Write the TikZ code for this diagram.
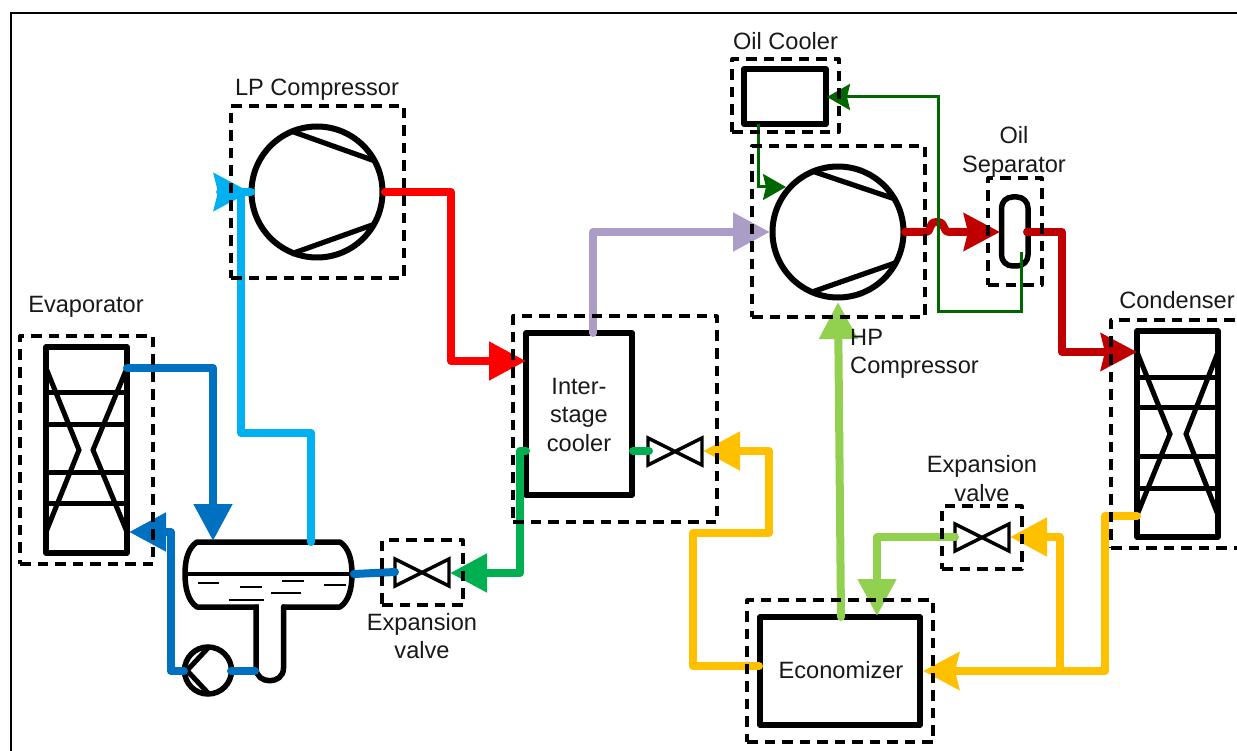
\documentclass[tikz,border=0pt]{standalone}
\usepackage{fontspec}
\setmainfont{Liberation Sans}
\usetikzlibrary{arrows.meta,fit,calc}
\definecolor{cblue}{HTML}{0070C0}
\definecolor{ccyan}{HTML}{00B0F0}
\definecolor{cred}{HTML}{FF0000}
\definecolor{cdred}{HTML}{C00000}
\definecolor{cpurple}{HTML}{AC9DC6}
\definecolor{cgreen}{HTML}{00B050}
\definecolor{clgreen}{HTML}{92D050}
\definecolor{cyellow}{HTML}{FFC000}
\definecolor{cdgreen}{HTML}{006600}
\tikzset{
  dashbox/.style={draw=black,line width=3.2pt,dash pattern=on 10.5pt off 7pt,inner sep=0pt,outer sep=0pt,line join=round},
  equip/.style={draw=black,line width=5.5pt,fill=white,inner sep=0pt,outer sep=0pt,line join=round},
  hxline/.style={draw=black,line width=5pt},
  comp/.style={draw=black,line width=6pt,fill=white,circle,inner sep=0pt,outer sep=0pt,minimum size=131pt},
  chord/.style={draw=black,line width=5.2pt},
  valvenode/.style={inner sep=0pt,outer sep=0pt},
  valvedraw/.style={draw=black,line width=3.4pt,line join=miter,fill=white},
  pipe/.style={line width=8pt,line join=round,line cap=round},
  oilpipe/.style={line width=3pt,line join=miter,draw=cdgreen},
  tip/.style={-{Triangle[length=37pt,width=37pt]}},
  notchtip/.style={-{Stealth[length=36pt,width=37pt,inset=4pt]}},
  oiltip/.style={-{Stealth[length=23pt,width=26pt,inset=3pt]}},
  lbl/.style={font=\fontsize{23.6}{28.5}\selectfont,align=center,inner sep=0pt,text=black!90}
}
\begin{document}
\begin{tikzpicture}[x=1pt,y=-1pt]
\useasboundingbox (0,0) rectangle (1237,751);
\clip (0,0) rectangle (1237,751);
\fill[white] (0,0) rectangle (1237,751);
\coordinate (frameTL) at (11,13);
\draw[line width=2pt] (11,751) -- (frameTL) -- (1237,13);

% equipment
\node[equip,fit={(46,347)(127,553)}] (evap) {};
\draw[hxline] (46,392)--(127,392) (46,424)--(127,424) (46,472)--(127,472) (46,503)--(127,503);
\draw[hxline,line join=miter] (46,368)--(79,450)--(46,532) (127,368)--(93,450)--(127,532);

\node[equip,fit={(1137,331)(1218,537)}] (cond) {};
\draw[hxline] (1137,377)--(1218,377) (1137,407)--(1218,407) (1137,456)--(1218,456) (1137,488)--(1218,488);
\draw[hxline,line join=miter] (1137,352)--(1170,434)--(1137,515) (1218,352)--(1186,434)--(1218,515);

\node[comp] (lp) at (317,192) {};
\draw[chord] (291,131)--(375,161) (291,254)--(375,224);
\node[comp] (hp) at (838,232) {};
\draw[chord] (812,171)--(895,199) (812,292)--(895,263);

\node[equip,fit={(526,333)(632,495)}] (ic) {};
\node[equip,fit={(760,617)(920,725)}] (eco) {};
\node[equip,fit={(744,69)(826,124)}] (oc) {};
\node[equip,line width=5.5pt,rounded corners=11pt,fit={(1001.5,197)(1028,266)}] (sep) {};

% receiver and pump
\node[inner sep=0pt,fit={(185,542)(352,607)}] (tank) {};
\draw[black,line width=5.5pt,fill=white,line join=round] (197,542)--(340,542) .. controls (349,548) and (352,560) .. (352,574) .. controls (352,588) and (349,601) .. (340,607) -- (197,607) .. controls (188,601) and (185,588) .. (185,574) .. controls (185,560) and (188,548) .. (197,542) -- cycle;
\fill[white] (258.5,603) rectangle (281.5,612);
\draw[black,line width=5.5pt,line join=round,line cap=round] (256,607)--(256,668) .. controls (256,685) and (283.5,685) .. (283.5,668) -- (283.5,607);
\draw[black,line width=3.2pt] (185,574)--(352,574);
\draw[black,line width=2.8pt] (198,583)--(219,583) (240,587)--(262,587) (282,581)--(304,581) (324,585)--(346,585) (271,593)--(301,593) (229,600)--(264,600);
\node[draw=black,line width=5.5pt,fill=white,circle,inner sep=0pt,minimum size=47pt] (pump) at (208,670.5) {};
\draw[black,line width=5pt,line join=miter] (209,647)--(187,670.5)--(209,694);

% valves
\node[valvenode,fit={(395,559)(449,586)}] (v1) {};
\draw[valvedraw] (v1.north west)--(v1.south east)--(v1.north east)--(v1.south west)--cycle;
\node[valvenode,fit={(648,438)(702,465)}] (v2) {};
\draw[valvedraw] (v2.north west)--(v2.south east)--(v2.north east)--(v2.south west)--cycle;
\node[valvenode,fit={(955,524)(1009,551)}] (v3) {};
\draw[valvedraw] (v3.north west)--(v3.south east)--(v3.north east)--(v3.south west)--cycle;

% ports
\coordinate (evapOut) at (127,368);
\coordinate (evapIn) at (129,532);
\coordinate (tankTopL) at (213,541);
\coordinate (tankTopR) at (311,542);
\coordinate (tankOut) at (354,574);
\coordinate (v1In) at (395,572);
\coordinate (v1Tip) at (450,573);
\coordinate (lpIn) at (250,192);
\coordinate (lpEnd) at (251,192);
\coordinate (lpOut) at (385,192);
\coordinate (icIn) at (526,361);
\coordinate (icTop) at (593,333);
\coordinate (icL) at (526,451);
\coordinate (icR) at (633,451);
\coordinate (hpIn) at (770,232);
\coordinate (hpOut) at (905,232);
\coordinate (sepIn) at (1000,232);
\coordinate (sepOut) at (1027,232);
\coordinate (condIn) at (1137,352);
\coordinate (condOut) at (1137,516);
\coordinate (ecoIn) at (923,671);
\coordinate (ecoOut) at (759,666);
\coordinate (ecoTop) at (841,617);
\coordinate (hpBot) at (838,302);
\coordinate (ecoV) at (877,616);
\coordinate (v3Out) at (955,537);
\coordinate (v3Tip) at (1010,537);
\coordinate (v2Tip) at (703,451);
\coordinate (v2L) at (649,451);
\coordinate (junc) at (1060,671);
\coordinate (pumpL) at (184,671);
\coordinate (pumpR) at (231,671);
\coordinate (legP) at (255,671);

% pipes
\draw[pipe,cblue,tip] (evapOut) -| (tankTopL);
\draw[pipe,cblue,tip] (pumpL) -- (170.5,671) |- (evapIn);
\draw[pipe,cblue] (pumpR) -- (legP);
\draw[pipe,cblue] (tankOut) -- (v1In);
\draw[pipe,ccyan,notchtip] (tankTopR) -- (311,433) -- (241,433) |- (lpIn);
\draw[pipe,ccyan] (241,192) -- (lpEnd);
\draw[pipe,cred,tip] (lpOut) -- (451,192) |- (icIn);
\draw[pipe,cpurple,tip] (icTop) |- (hpIn);
\draw[pipe,cgreen,tip] (icL) -- (520,451) |- (v1Tip);
\draw[pipe,cgreen] (icR) -- (v2L);
\draw[pipe,cyellow,tip] (ecoOut) -- (693,666) |- (769,533) |- (v2Tip);
\draw[pipe,cyellow,notchtip] (condOut) -- (1105,516) |- (ecoIn);
\draw[pipe,cyellow,tip] (junc) |- (v3Tip);
\draw[pipe,clgreen,tip] (v3Out) -| (ecoV);
\draw[pipe,clgreen,tip] (ecoTop) -- (hpBot);
\draw[pipe,cdred] (hpOut) -- (925,232) .. controls (933,232) and (927,222) .. (937,222) .. controls (947,222) and (941,232) .. (950,232) -- (962,232);
\draw[pipe,cdred,notchtip] (962,232) -- (sepIn);
\draw[pipe,cdred,notchtip] (sepOut) -- (1062,232) |- (condIn);

% oil circuit
\coordinate (sepOil) at (1021,252);
\coordinate (ocIn) at (827,97);
\coordinate (ocOut) at (758,124);
\coordinate (hpOil) at (786,187);
\draw[oilpipe,oiltip] (sepOil) -- (1021,312) -- (938,312) |- (ocIn);
\draw[oilpipe,oiltip] (ocOut) |- (hpOil);

% dashed boxes
\node[dashbox,fit={(20,336)(153,564)}] (evapBox) {};
\node[dashbox,fit={(231,106)(404,278)}] (lpBox) {};
\node[dashbox,fit={(382,540)(463,605)}] (v1Box) {};
\node[dashbox,fit={(513,316)(717,522)}] (icBox) {};
\node[dashbox,fit={(732,59)(839,132)}] (ocBox) {};
\node[dashbox,fit={(752,146)(925,317)}] (hpBox) {};
\node[dashbox,fit={(988,178)(1042,285)}] (sepBox) {};
\node[dashbox,fit={(942,506)(1022,569)}] (v3Box) {};
\node[dashbox,fit={(747,600)(933,742)}] (ecoBox) {};
\node[dashbox,fit={(1111,320)(1260,548)}] (condBox) {};

% labels
\node[lbl] (tEvap) at (86,306.5) {Evaporator};
\node[lbl] (tLP) at (317,89.5) {LP Compressor};
\node[lbl] (tOC) at (785.5,41.5) {Oil Cooler};
\node[lbl] (tSep) at (1014,152) {Oil\\Separator};
\node[lbl,align=left] (tHP) at (914.5,354) {HP\\Compressor};
\node[lbl] (tCond) at (1177,300.5) {Condenser};
\node[lbl] (tV3) at (982,478.5) {Expansion\\valve};
\node[lbl] (tV1) at (422,636) {Expansion\\valve};
\node[lbl] (tIC) at (579,414.5) {Inter-\\stage\\cooler};
\node[lbl] (tEco) at (841,670.5) {Economizer};
\end{tikzpicture}
\end{document}
